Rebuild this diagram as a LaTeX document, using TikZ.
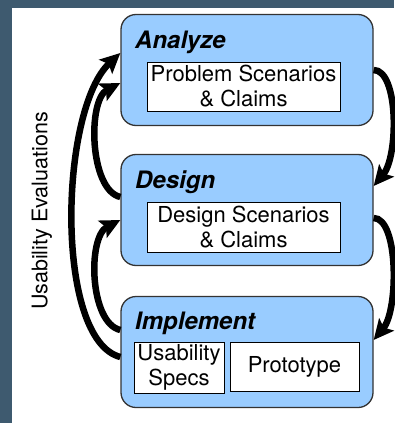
\documentclass[tikz,border=0pt]{standalone}
\usepackage{fontspec}
\setmainfont{TeX Gyre Heros}
\usetikzlibrary{arrows.meta,positioning}
\definecolor{framegray}{HTML}{3E5A6F}
\definecolor{phaseblue}{HTML}{99CCFF}
\tikzstyle{phase}=[draw=black!80, line width=1.3pt, fill=phaseblue, rounded corners=15pt, minimum width=252pt, minimum height=111pt, inner sep=0pt]
\tikzstyle{product}=[draw=black, line width=1pt, fill=white, align=center, inner sep=0pt, font=\fontsize{22}{25}\selectfont]
\tikzstyle{phasename}=[anchor=base west, inner sep=0pt, font=\fontsize{24}{28}\selectfont\bfseries\itshape]
\tikzstyle{flow}=[draw, line width=6.5pt, -{Stealth[length=20pt,width=19pt,inset=4pt]}]

\begin{document}
\begin{tikzpicture}[x=1pt,y=-1pt]

  % frame
  \fill[framegray] (0,0) rectangle (394,423);
  \fill[white] (12,8) rectangle (394,423);
  \useasboundingbox (0,0) rectangle (394,423);

  \foreach \name/\y in {analyze/70, design/210, implement/352}
    \node[phase] (\name) at (247,\y) {};

  \foreach \name/\y/\label in {analyze/48/Analyze, design/188/Design, implement/329/Implement}
    \node[phasename] (\name-title) at (135,\y) {\label};

  \node[product, minimum width=193pt, minimum height=49pt] (problem) at (243.5,86.5) {Problem Scenarios\\\& Claims};
  \node[product, minimum width=193pt, minimum height=50pt] (scenarios) at (243.5,227) {Design Scenarios\\\& Claims};
  \node[product, minimum width=90pt, minimum height=51pt] (specs) at (179,367.5) {Usability\\Specs};
  \node[product, minimum width=129pt, minimum height=49pt] (prototype) at (294.5,366.5) {Prototype};

  % forward flow
  \draw[flow] (analyze.east) .. controls +(25,0) and +(25,-30) .. ([yshift=24pt]design.east);
  \draw[flow] ([yshift=-8pt]design.east) .. controls +(25,0) and +(25,-30) .. ([yshift=12pt]implement.east);

  % evaluations back
  \draw[flow] ([yshift=-5pt]implement.west) .. controls +(-66,-17) and +(-61,57) .. ([yshift=17pt]analyze.west);
  \draw[flow] ([yshift=13pt]design.west) .. controls +(-31,-7) and +(-33,17) .. ([yshift=-13pt]analyze.west);
  \draw[flow] ([yshift=22pt]implement.west) .. controls +(-31,-7) and +(-33,17) .. ([yshift=-10pt]design.west);

  \node[rotate=90, font=\fontsize{21.5}{25}\selectfont] (evaluations) at (42,211) {Usability Evaluations};

\end{tikzpicture}
\end{document}
